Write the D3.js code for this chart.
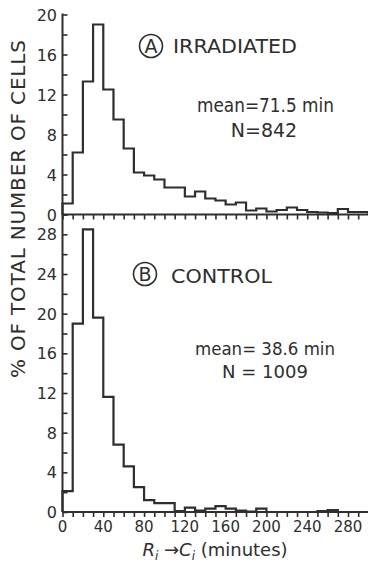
<!DOCTYPE html>
<html>
<head>
<meta charset="utf-8">
<script src="https://cdn.jsdelivr.net/npm/d3@7"></script>
<style>
  body { margin: 0; background: #fff; }
  text { font-family: "DejaVu Sans", sans-serif; fill: #2e2e2e; }
</style>
</head>
<body>
<div class="chart"></div>
<script>
// bin start (minutes), each bin is 10 min wide
var binStarts = [0, 10, 20, 30, 40, 50, 60, 70, 80, 90, 100, 110, 120, 130, 140,
  150, 160, 170, 180, 190, 200, 210, 220, 230, 240, 250, 260, 270, 280, 290];
var binWidth = 10;

// % of cells, irradiated
var irradiated = [1.1, 6.2, 13.3, 19.0, 12.5, 9.5, 6.6, 4.2, 3.9, 3.5, 2.7, 2.7, 1.8, 2.3, 1.6,
  1.4, 1.0, 1.2, 0.4, 0.6, 0.3, 0.45, 0.7, 0.45, 0.25, 0.2, 0.15, 0.55, 0.25, 0.25];

// % of cells, control
var control = [2.1, 19.0, 28.5, 19.6, 11.6, 6.8, 4.6, 2.5, 1.2, 0.9, 0.9, 0.1, 0.45, 0.15, 0.35,
  0.6, 0.35, 0.15, 0.05, 0.35, 0, 0, 0, 0, 0, 0.1, 0.2, 0, 0, 0];

var xTickLabels = [0, 40, 80, 120, 160, 200, 240, 280];
var yTicksTop = [0, 4, 8, 12, 16, 20];
var yTicksBottom = [0, 4, 8, 12, 16, 20, 24, 28];

var svgWidth = 368;
var svgHeight = 567;
var ink = "#2e2e2e";

var svg = d3.select(".chart")
  .append("svg")
  .attr("width", svgWidth)
  .attr("height", svgHeight);

var x = d3.scaleLinear()
  .domain([0, 300])
  .range([62.5, 368.4]);

var yTop = d3.scaleLinear()
  .domain([0, 20])
  .range([214.5, 14.5]);

var yBot = d3.scaleLinear()
  .domain([0, 30])
  .range([512, 214.5]);

function drawPanel(values, y, yTicks, yMax) {
  var g = svg.append("g");

  // y axis with inward ticks every 2 units, labels every 4
  var minor = d3.range(0, yMax + 0.01, 2);
  var leftAxis = d3.axisRight(y)
    .tickValues(minor)
    .tickSize(5)
    .tickFormat("");
  var ga = g.append("g")
    .attr("transform", `translate(${x(0)}, 0)`)
    .call(leftAxis);
  ga.select(".domain").remove();
  ga.selectAll("line").attr("stroke", ink).attr("stroke-width", 1.6);

  g.append("line")
    .attr("x1", x(0)).attr("x2", x(0))
    .attr("y1", y(yMax) - 1).attr("y2", y(0))
    .attr("stroke", ink).attr("stroke-width", 2);

  g.selectAll(".ylab")
    .data(yTicks)
    .enter()
    .append("text")
    .attr("class", "ylab")
    .attr("x", 57)
    .attr("y", d => y(d) + 6)
    .attr("text-anchor", "end")
    .style("font-size", "16px")
    .text(d => d);

  // x axis (baseline) with ticks every 10 min
  var bottomAxis = d3.axisBottom(x)
    .tickValues(binStarts.concat([300]))
    .tickSize(5)
    .tickFormat("");
  var gx = g.append("g")
    .attr("transform", `translate(0, ${y(0)})`)
    .call(bottomAxis);
  gx.select(".domain").remove();
  gx.selectAll("line").attr("stroke", ink).attr("stroke-width", 1.6);

  g.append("line")
    .attr("x1", x(0)).attr("x2", x(300))
    .attr("y1", y(0)).attr("y2", y(0))
    .attr("stroke", ink).attr("stroke-width", 2.2);

  // histogram outline
  var pts = [[x(0), y(0)]];
  values.forEach(function(v, i) {
    pts.push([x(binStarts[i]), y(v)]);
  });
  pts.push([x(binStarts[binStarts.length - 1] + binWidth), y(values[values.length - 1])]);
  pts.push([x(binStarts[binStarts.length - 1] + binWidth), y(0)]);

  var line = d3.line().curve(d3.curveStepAfter);
  g.append("path")
    .attr("d", line(pts))
    .attr("fill", "none")
    .attr("stroke", ink)
    .attr("stroke-width", 2.2);

  return g;
}

drawPanel(irradiated, yTop, yTicksTop, 20);
drawPanel(control, yBot, yTicksBottom, 30);

// x tick labels
svg.selectAll(".xlab")
  .data(xTickLabels)
  .enter()
  .append("text")
  .attr("class", "xlab")
  .attr("x", d => x(d))
  .attr("y", 532)
  .attr("text-anchor", "middle")
  .style("font-size", "15px")
  .text(d => d);

// panel labels
function circled(cx, cy, letter) {
  svg.append("circle")
    .attr("cx", cx).attr("cy", cy).attr("r", 11.5)
    .attr("fill", "none").attr("stroke", ink).attr("stroke-width", 1.6);
  svg.append("text")
    .attr("x", cx).attr("y", cy + 7)
    .attr("text-anchor", "middle")
    .style("font-size", "19px")
    .text(letter);
}

circled(151, 46, "A");
svg.append("text")
  .attr("x", 173).attr("y", 53)
  .attr("textLength", 124).attr("lengthAdjust", "spacingAndGlyphs")
  .style("font-size", "20px")
  .text("IRRADIATED");
svg.append("text")
  .attr("x", 197).attr("y", 112)
  .attr("textLength", 137).attr("lengthAdjust", "spacingAndGlyphs")
  .style("font-size", "19px")
  .text("mean=71.5 min");
svg.append("text")
  .attr("x", 264).attr("y", 137)
  .attr("text-anchor", "middle")
  .style("font-size", "19px")
  .text("N=842");

circled(145, 274, "B");
svg.append("text")
  .attr("x", 171).attr("y", 283)
  .attr("textLength", 101).attr("lengthAdjust", "spacingAndGlyphs")
  .style("font-size", "20px")
  .text("CONTROL");
svg.append("text")
  .attr("x", 195).attr("y", 355)
  .attr("textLength", 140).attr("lengthAdjust", "spacingAndGlyphs")
  .style("font-size", "18px")
  .text("mean= 38.6 min");
svg.append("text")
  .attr("x", 265).attr("y", 378)
  .attr("text-anchor", "middle")
  .style("font-size", "18px")
  .text("N = 1009");

// y axis title
svg.append("text")
  .attr("transform", "translate(25, 209) rotate(-90)")
  .attr("text-anchor", "middle")
  .attr("textLength", 338).attr("lengthAdjust", "spacing")
  .style("font-size", "20px")
  .text("% OF TOTAL NUMBER OF CELLS");

// x axis title
var xt = svg.append("text")
  .attr("x", 215).attr("y", 556)
  .attr("text-anchor", "middle")
  .style("font-size", "18px");
xt.append("tspan").style("font-style", "italic").text("R");
xt.append("tspan").attr("dy", 4).style("font-style", "italic").style("font-size", "12px").text("i");
xt.append("tspan").attr("dy", -4).text(" \u2192");
xt.append("tspan").style("font-style", "italic").text("C");
xt.append("tspan").attr("dy", 4).style("font-style", "italic").style("font-size", "12px").text("i");
xt.append("tspan").attr("dy", -4).text(" (minutes)");
</script>
</body>
</html>
